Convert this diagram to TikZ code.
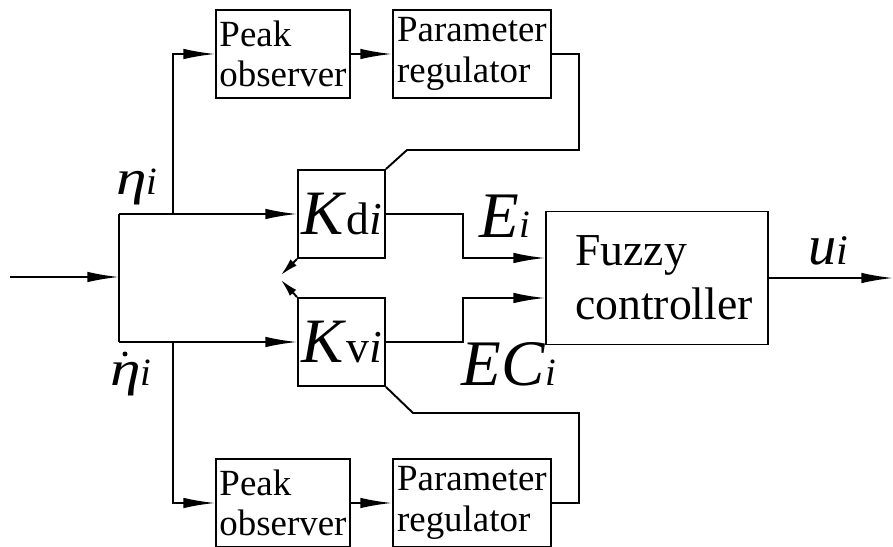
\documentclass[tikz,border=0pt]{standalone}
\usepackage{fontspec}
\setmainfont{Liberation Serif}
\usetikzlibrary{arrows.meta,positioning}

% big letter followed by a smaller index on the same baseline
\newcommand{\bigsub}[3]{{\fontsize{#1}{#1}\selectfont #2}{\fontsize{22}{22}\selectfont\textit{#3}}}
% wide eta
\newcommand{\weta}{{\fontsize{28}{28}\selectfont\scalebox{1.25}[1]{\textit{η}}}}

\tikzset{
  wire/.style={line width=1.1pt},
  sig/.style={wire, -{Latex[length=18pt,width=6pt]}},
  tune/.style={wire, -{Latex[length=10pt,width=5pt]}},
  blk/.style={draw, line width=1.1pt, fill=white, inner sep=1pt, align=left,
    minimum height=1.76cm, font=\fontsize{21}{23}\selectfont},
  peakbox/.style={blk, minimum width=2.68cm},
  regbox/.style={blk, minimum width=3.16cm},
  gainbox/.style={blk, minimum width=1.74cm, inner sep=0pt},
  fuzzbox/.style={blk, minimum width=4.44cm, minimum height=2.66cm,
    font=\fontsize{26}{30.5}\selectfont},
  lbl/.style={inner sep=0pt, anchor=base west},
}

\begin{document}
\begin{tikzpicture}[x=0.02cm, y=-0.02cm]
    \useasboundingbox (0,0) rectangle (893,547);

    % blocks
    \node[peakbox] (po1) at (283,54) {Peak\\observer};
    \node[regbox, right=0.82cm of po1] (pr1) {Parameter\\regulator};
    \node[peakbox] (po2) at (283,503) {Peak\\observer};
    \node[regbox, right=0.82cm of po2] (pr2) {Parameter\\regulator};

    \node[gainbox] (kd) at (341.5,214) {\bigsub{36}{\textit{K}}{\fontsize{26}{26}\selectfont\upshape d\textit{i}}};
    \node[gainbox] (kv) at (341.5,342) {\bigsub{36}{\textit{K}}{\fontsize{26}{26}\selectfont\upshape v\textit{i}}};

    \node[fuzzbox] (fz) at (657,278) {\hspace*{8pt}Fuzzy\\\hspace*{8pt}controller};

    % points on the wires
    \coordinate (in) at (10,277);
    \coordinate (j) at (119,277);
    \coordinate (ja) at (119,214);
    \coordinate (jb) at (119,342);
    \coordinate (ba) at (173,214);
    \coordinate (bb) at (173,342);
    \coordinate (e1) at (463,258);
    \coordinate (e2) at (463,298);
    \coordinate (out) at (893,278);
    \coordinate (t1) at (407,150);
    \coordinate (t2) at (413,413);
    \coordinate (tip1) at (281,275);
    \coordinate (tip2) at (281,280);

    % input and split
    \draw[sig] (in) -- (j);
    \draw[wire] (ja) -- (jb);
    \draw[sig] (ja) -- (kd.west);
    \draw[sig] (jb) -- (kv.west);
    \draw[sig] (ba) |- (po1.west);
    \draw[sig] (bb) |- (po2.west);
    \draw[sig] (po1) -- (pr1);
    \draw[sig] (po2) -- (pr2);

    % gain tuning
    \draw[wire] (pr1.east) -| (579,150) -- (t1) -- (kd.north east);
    \draw[tune] (kd.south west) -- (tip1);
    \draw[wire] (pr2.east) -| (579,413) -- (t2) -- (kv.south east);
    \draw[tune] (kv.north west) -- (tip2);

    % into the fuzzy controller and out
    \draw[sig] (kd.east) -| (e1) -- (e1 -| fz.west);
    \draw[sig] (kv.east) -| (e2) -- (e2 -| fz.west);
    \draw[sig] (fz.east) -- (out);

    % signal names
    \node[lbl] (leta) at (116,195) {\weta{\fontsize{22}{22}\selectfont\textit{i}}};
    \node[lbl] (ldeta) at (110,385) {\weta{\fontsize{22}{22}\selectfont\textit{i}}};
    \fill ([shift={(15,-31)}]ldeta.base west) circle (2.5);
    \node[lbl] (lE) at (479,238) {\bigsub{37}{\textit{E}}{i}};
    \node[lbl] (lEC) at (461,385) {\bigsub{37}{\textit{EC}}{i}};
    \node[lbl] (lu) at (808,265) {{\fontsize{32}{32}\selectfont\textit{u}}{\fontsize{24}{24}\selectfont\textit{i}}};
\end{tikzpicture}
\end{document}
